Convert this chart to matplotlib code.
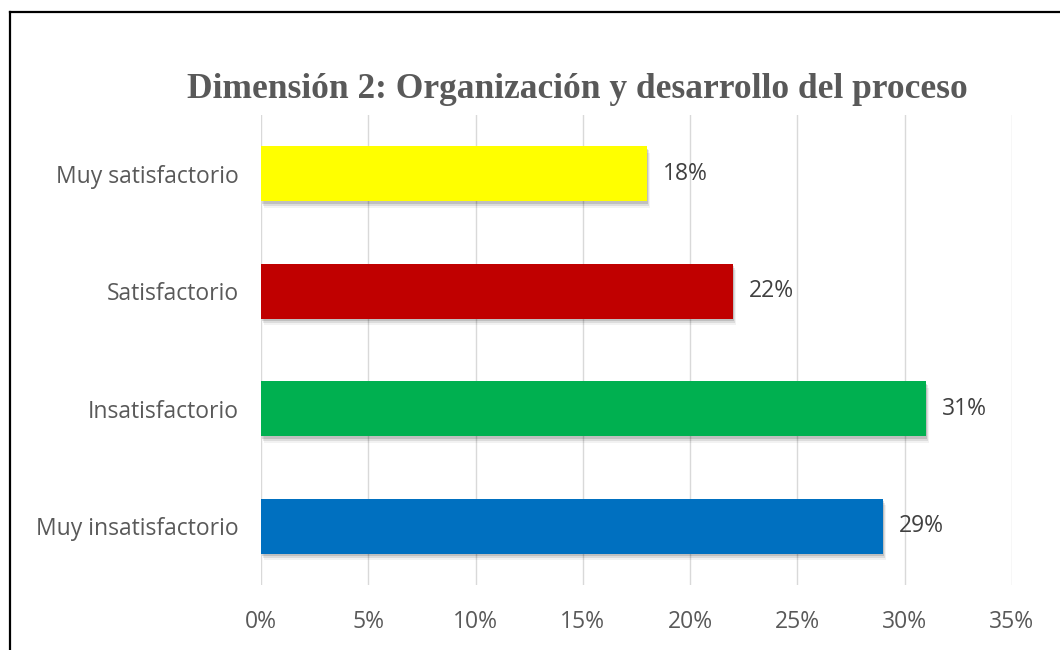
import numpy as np
import matplotlib.pyplot as plt
from matplotlib.lines import Line2D

categorias = ['Muy insatisfactorio', 'Insatisfactorio', 'Satisfactorio', 'Muy satisfactorio']
valores = [29, 31, 22, 18]
colores = ['#0070c0', '#00b050', '#c00000', '#ffff00']
ticks_x = [0, 5, 10, 15, 20, 25, 30, 35]

fig = plt.figure(figsize=(10.6, 6.5), dpi=100)
ax = fig.add_axes([0.2462, 0.1, 0.7085, 0.723])

y = np.arange(len(categorias))
alto = 0.47

# sombra difusa abajo a la derecha
for d, a in [(0.18, 0.05), (0.12, 0.09), (0.07, 0.13)]:
    ax.barh(y - d * 0.3, valores, height=alto, left=d * 0.8, color='black',
            alpha=a, zorder=2, linewidth=0)

ax.barh(y, valores, height=alto, color=colores, zorder=3, linewidth=0)

for yi, v in zip(y, valores):
    ax.text(v + 0.75, yi, f'{v}%', va='center', ha='left', fontsize=16.5,
            color='#404040', family='Open Sans')

ax.set_xlim(0, 35)
ax.set_ylim(-0.5, 3.5)
ax.set_xticks(ticks_x)
ax.set_xticklabels([f'{t}%' for t in ticks_x])
ax.set_yticks(y)
ax.set_yticklabels(categorias)
ax.tick_params(length=0, labelsize=16.5, labelcolor='#595959', pad=18)
ax.tick_params(axis='y', pad=16)
for lab in ax.get_xticklabels() + ax.get_yticklabels():
    lab.set_family('Open Sans')
ax.grid(axis='x', color='#d9d9d9', linewidth=1, zorder=0)
ax.set_axisbelow(True)
for s in ax.spines.values():
    s.set_visible(False)

fig.text(0.545, 0.862, 'Dimensión 2: Organización y desarrollo del proceso',
         ha='center', va='center', fontsize=25.5, fontweight='bold',
         color='#595959', family='Liberation Serif')

# marco exterior
fig.add_artist(Line2D([10 / 1060, 1], [1 - 12 / 650] * 2, color='black', lw=1.6))
fig.add_artist(Line2D([10 / 1060] * 2, [0, 1 - 12 / 650], color='black', lw=1.6))

fig.savefig('out.png', dpi=100)
